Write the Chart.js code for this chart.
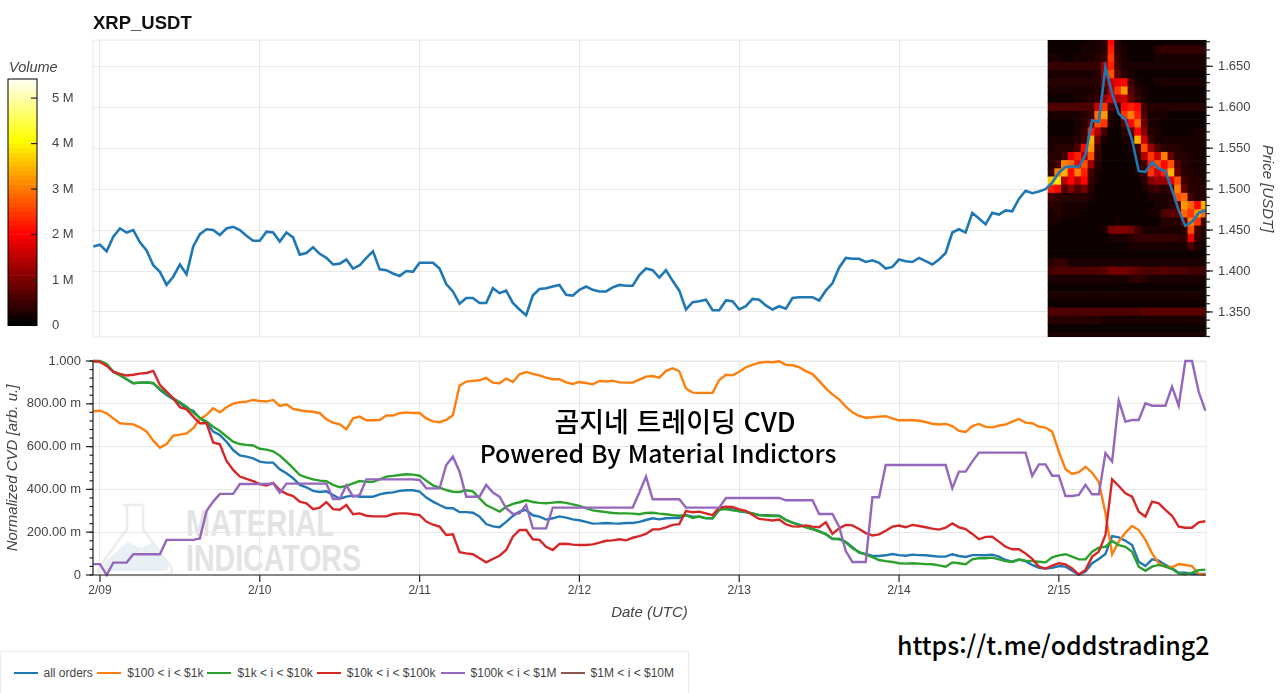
<!DOCTYPE html>
<html lang="ko">
<head>
<meta charset="utf-8">
<title>XRP_USDT CVD</title>
<script src="https://cdn.jsdelivr.net/npm/chart.js@4"></script>
<style>
    html, body { margin: 0; padding: 0; width: 1280px; height: 693px; background: #fff; overflow: hidden; }
    body { position: relative; font-family: "Liberation Sans", Arial, sans-serif; color: #444; }
    canvas, .overlay, #watermark { position: absolute; }
    #watermark { left: 0; top: 340px; }
    #price-chart { left: 0; top: 0; }
    #cvd-chart { left: 0; top: 340px; }
    #volume-bar { left: 0; top: 60px; }
    #volume-title { left: 9px; top: 59px; font-size: 14.5px; font-style: italic; }
    #caption1, #caption2 { color: #000; white-space: nowrap; transform: translateX(-50%); }
    #caption1 { left: 675px; top: 401px; font: 500 27px "Noto Sans CJK KR", sans-serif; }
    #caption2 { left: 658px; top: 434px; font: 500 24.8px "Noto Sans CJK KR", sans-serif; }
    #channel { left: 897px; top: 626px; color: #000; font: 500 24.9px "Noto Sans CJK KR", sans-serif; white-space: nowrap; }
    #legend { left: 0; top: 651px; width: 687px; height: 41px; border: 1px solid #ececec; box-sizing: content-box;
        display: flex; align-items: center; padding-left: 0; font-size: 12px; }
    .entry { display: flex; align-items: center; }
    .entry i { display: block; width: 24px; height: 2px; margin: 0 6px 0 0; }
</style>
</head>
<body>
<svg id="watermark" width="400" height="240" viewBox="0 340 400 240">
    <path d="M123 505h20M127 505v24l-28 38q-3 8 6 8h60q9 0 6-8l-28-38v-24" fill="none" stroke="#ececec" stroke-width="2.5"/>
    <path d="M113 555l14-13 14 6 13-6 14 24q1 5-4 5h-60q-5 0-3-5z" fill="#e8f0f4"/>
    <text x="186" y="536" font-family="Liberation Sans Narrow, Liberation Sans" font-weight="700" font-size="37" fill="#e3e3e3" textLength="148" lengthAdjust="spacingAndGlyphs">MATERIAL</text>
    <text x="186" y="571" font-family="Liberation Sans Narrow, Liberation Sans" font-weight="700" font-size="37" fill="#e3e3e3" textLength="175" lengthAdjust="spacingAndGlyphs">INDICATORS</text>
</svg>
<canvas id="price-chart" width="1280" height="340"></canvas>
<canvas id="cvd-chart" width="1280" height="286"></canvas>
<canvas id="volume-bar" width="100" height="280"></canvas>
<div class="overlay" id="volume-title">Volume</div>
<div class="overlay" id="caption1">곰지네 트레이딩 CVD</div>
<div class="overlay" id="caption2">Powered By Material Indictors</div>
<div class="overlay" id="channel">https://t.me/oddstrading2</div>
<div class="overlay" id="legend"></div>

<script>
// hourly samples, hour 0 = 2/09 00:00 UTC, one line per 24 samples
const dayLabels = ['2/09', '2/10', '2/11', '2/12', '2/13', '2/14', '2/15'];
const dayTicks = [0, 24, 48, 72, 96, 120, 144];
const priceTicks = [1.35, 1.40, 1.45, 1.50, 1.55, 1.60, 1.65];
const cvdTicks = [0, 0.2, 0.4, 0.6, 0.8, 1];
const volumeTicks = [0, 1, 2, 3, 4, 5];
const firstHour = -1;

const priceValues = [
    1.430,1.432,1.424,1.442,1.452,1.447,1.450,1.435,1.425,1.407,1.399,1.383,1.393,1.408,1.396,1.430,1.445,1.451,1.450,1.444,1.452,1.454,1.450,1.443,
    1.437,1.437,1.448,1.447,1.436,1.447,1.441,1.420,1.422,1.429,1.421,1.416,1.408,1.409,1.414,1.403,1.407,1.416,1.424,1.402,1.401,1.397,1.394,1.400,
    1.399,1.410,1.410,1.410,1.403,1.384,1.375,1.360,1.367,1.367,1.361,1.361,1.379,1.373,1.376,1.361,1.353,1.346,1.370,1.378,1.379,1.381,1.383,1.371,
    1.370,1.377,1.381,1.377,1.375,1.375,1.380,1.383,1.382,1.382,1.395,1.403,1.401,1.392,1.401,1.388,1.376,1.353,1.362,1.363,1.365,1.352,1.352,1.364,
    1.363,1.353,1.357,1.366,1.365,1.358,1.353,1.357,1.354,1.367,1.368,1.368,1.368,1.364,1.376,1.385,1.404,1.416,1.415,1.415,1.411,1.413,1.410,1.403,
    1.405,1.414,1.412,1.411,1.416,1.412,1.408,1.414,1.422,1.447,1.451,1.447,1.471,1.464,1.457,1.471,1.469,1.474,1.473,1.488,1.498,1.495,1.497,1.500,
    1.508,1.520,1.527,1.528,1.527,1.542,1.584,1.582,1.649,1.617,1.592,1.585,1.560,1.522,1.521,1.533,1.525,1.522,1.499,1.474,1.455,1.460,1.471,1.474,
];

const allOrders = [
    1,.997,.982,.950,.935,.915,.896,.899,.900,.896,.865,.841,.821,.802,.779,.767,.732,.712,.670,.654,.623,.584,.559,.553,
    .545,.530,.525,.525,.494,.475,.452,.421,.410,.393,.388,.391,.374,.357,.366,.371,.366,.366,.366,.377,.383,.386,.393,.396,
    .396,.390,.362,.343,.327,.313,.312,.294,.294,.291,.273,.238,.227,.223,.248,.276,.296,.304,.279,.273,.259,.265,.274,.268,
    .260,.256,.248,.240,.241,.243,.241,.240,.243,.243,.248,.257,.265,.260,.265,.266,.266,.280,.273,.273,.265,.265,.304,.313,
    .307,.298,.293,.288,.280,.279,.278,.277,.258,.245,.235,.225,.215,.205,.190,.168,.168,.155,.130,.104,.098,.089,.089,.092,
    .098,.093,.090,.095,.093,.092,.089,.086,.086,.097,.089,.084,.093,.093,.092,.095,.086,.070,.062,.072,.065,.047,.034,.030,
    .033,.042,.039,.020,.002,.016,.055,.075,.098,.182,.176,.160,.140,.062,.042,.073,.067,.047,.031,.011,.011,.005,.005,.005,
];
const range100to1k = [
    .765,.768,.756,.732,.709,.706,.704,.690,.670,.628,.595,.612,.651,.656,.662,.686,.728,.748,.779,.760,.784,.801,.807,.810,
    .818,.813,.810,.818,.790,.798,.776,.770,.765,.763,.756,.728,.712,.704,.681,.732,.740,.723,.723,.724,.745,.745,.756,.760,
    .757,.757,.732,.718,.714,.725,.746,.885,.904,.907,.910,.921,.899,.896,.918,.902,.938,.949,.940,.933,.922,.915,.915,.900,
    .893,.902,.897,.891,.907,.904,.908,.900,.899,.899,.913,.927,.930,.922,.954,.966,.952,.872,.852,.851,.851,.851,.911,.936,
    .933,.950,.971,.982,.992,.996,.994,.999,.982,.980,.971,.953,.939,.907,.872,.844,.821,.787,.760,.743,.735,.737,.740,.742,
    .732,.723,.723,.724,.721,.715,.707,.703,.706,.696,.673,.668,.696,.706,.692,.690,.698,.703,.717,.729,.712,.709,.693,.689,
    .670,.576,.494,.472,.480,.506,.478,.436,.288,.097,.156,.198,.229,.210,.164,.101,.055,.039,.036,.051,.047,.042,.005,0,
];
const range1kto10k = [
    1,1,.986,.950,.933,.915,.896,.899,.900,.896,.869,.849,.826,.807,.787,.759,.735,.717,.693,.673,.647,.623,.612,.608,
    .605,.590,.586,.578,.558,.530,.499,.467,.456,.447,.441,.438,.421,.410,.416,.428,.439,.435,.435,.447,.460,.463,.467,.471,
    .469,.464,.441,.419,.408,.397,.389,.388,.396,.391,.358,.327,.312,.296,.319,.332,.340,.349,.341,.337,.335,.338,.341,.337,
    .330,.323,.313,.302,.298,.294,.290,.288,.288,.287,.284,.290,.291,.287,.284,.279,.277,.280,.266,.273,.266,.265,.307,.308,
    .302,.299,.295,.288,.280,.277,.276,.276,.257,.245,.234,.223,.215,.203,.192,.170,.168,.153,.125,.108,.095,.083,.070,.065,
    .061,.055,.053,.055,.053,.051,.050,.045,.039,.059,.055,.050,.073,.079,.078,.081,.073,.065,.061,.072,.067,.065,.062,.059,
    .083,.092,.097,.086,.073,.073,.109,.128,.132,.159,.140,.132,.109,.039,.020,.039,.047,.039,.028,.008,.003,.011,.023,.025,
];
const range10kto100k = [
    1,.996,.977,.950,.940,.932,.936,.941,.944,.954,.888,.857,.826,.784,.774,.740,.709,.709,.619,.611,.533,.491,.460,.449,
    .439,.425,.418,.430,.397,.379,.369,.343,.335,.308,.315,.341,.308,.305,.327,.284,.288,.277,.274,.274,.274,.285,.288,.288,
    .284,.280,.250,.235,.226,.187,.190,.107,.101,.097,.078,.059,.075,.090,.117,.179,.210,.210,.167,.164,.132,.117,.145,.146,
    .142,.140,.140,.143,.151,.160,.162,.167,.162,.174,.182,.192,.213,.213,.223,.234,.238,.299,.293,.296,.288,.280,.315,.319,
    .318,.307,.300,.280,.262,.259,.255,.259,.237,.227,.226,.232,.226,.223,.246,.192,.218,.234,.232,.215,.196,.185,.190,.207,
    .226,.231,.223,.234,.229,.223,.217,.212,.221,.241,.223,.215,.192,.167,.178,.179,.156,.132,.120,.120,.101,.075,.039,.030,
    .044,.055,.050,.031,.002,.023,.086,.109,.187,.447,.416,.382,.366,.296,.273,.343,.335,.304,.277,.226,.221,.221,.246,.251,
];
const range100kto1M = [
    .051,.051,0,.058,.058,.058,.097,.097,.097,.097,.097,.164,.164,.164,.164,.164,.171,.299,.343,.379,.379,.379,.425,.425,
    .425,.425,.425,.428,.385,.427,.427,.427,.427,.427,.427,.427,.355,.355,.419,.366,.374,.447,.447,.447,.447,.447,.447,.447,
    .447,.444,.405,.405,.405,.514,.553,.483,.366,.366,.366,.421,.385,.366,.312,.285,.288,.327,.218,.218,.218,.315,.315,.315,
    .315,.315,.315,.315,.315,.315,.315,.315,.315,.315,.386,.460,.354,.354,.354,.354,.354,.315,.315,.315,.315,.315,.315,.360,
    .360,.360,.360,.360,.360,.360,.360,.360,.349,.349,.349,.349,.349,.285,.285,.285,.226,.112,.061,.061,.061,.363,.363,.514,
    .514,.514,.514,.514,.514,.514,.514,.514,.514,.405,.483,.483,.530,.572,.572,.572,.572,.572,.572,.572,.572,.463,.517,.517,
    .464,.464,.369,.369,.374,.421,.377,.377,.569,.530,.815,.717,.724,.724,.802,.791,.791,.791,.880,.791,1,1,.857,.768,
];
const range1Mto10M = [];

const seriesNames = ['all orders', '$100 < i < $1k', '$1k < i < $10k', '$10k < i < $100k', '$100k < i < $1M', '$1M < i < $10M'];
const seriesValues = [allOrders, range100to1k, range1kto10k, range10kto100k, range100kto1M, range1Mto10M];
const seriesColors = ['#1f77b4', '#ff7f0e', '#2ca02c', '#d62728', '#9467bd', '#8c564b'];

// volume profile, tenths of a million per price level and column
const heatFirstHour = 142.9;
const heatPrices = [1.68,1.67,1.66,1.65,1.64,1.63,1.62,1.61,1.60,1.59,1.58,1.57,1.56,1.55,1.54,1.53,1.52,1.51,1.50,1.49,1.48,1.47,1.46,1.45,1.44,1.43,1.42,1.41,1.40,1.39,1.38,1.37,1.36,1.35,1.34,1.33,1.32];
const heatVolumes = [
    [1,1,1,1,1,1,2,2,3,20,3,1,1,1,1,1,1,1,1,1,1,1,1,1],
    [1,1,1,1,1,2,2,2,3,22,3,2,1,1,1,1,3,4,4,4,4,4,4,4],
    [2,2,1,1,2,2,2,3,4,24,4,2,1,1,1,1,2,2,2,2,2,2,2,2],
    [4,4,4,4,4,4,4,4,12,22,5,2,2,2,2,2,2,2,2,2,2,2,2,2],
    [2,2,2,2,2,2,2,3,12,26,7,3,2,1,1,1,1,1,1,1,1,1,1,1],
    [3,3,3,3,3,3,3,3,8,16,18,20,5,2,1,1,2,2,2,2,2,2,2,2],
    [2,2,2,2,2,2,2,3,5,14,24,32,7,3,2,1,1,1,1,1,1,1,1,1],
    [1,1,1,1,2,2,3,4,12,16,14,16,8,4,2,1,1,1,1,1,1,1,1,1],
    [6,6,6,6,6,6,6,16,24,6,4,20,22,20,5,3,3,3,3,3,3,3,3,3],
    [2,2,2,2,2,3,4,28,32,3,1,24,30,22,6,2,2,2,1,1,1,1,1,1],
    [1,1,1,1,2,3,8,26,24,2,1,7,20,28,8,2,2,1,1,1,1,1,1,1],
    [1,1,1,1,2,4,22,14,5,1,1,3,7,20,10,3,2,1,1,1,1,1,2,2],
    [2,2,2,2,3,5,34,8,2,1,1,2,3,34,16,4,2,2,2,2,2,2,2,2],
    [2,3,3,3,6,20,32,5,1,1,1,1,2,5,26,12,6,3,3,3,2,2,2,2],
    [3,3,5,18,22,14,26,4,1,1,1,1,1,3,14,24,16,30,8,3,3,2,2,2],
    [3,5,30,28,18,26,12,3,1,1,1,1,1,2,5,22,26,20,26,6,3,2,2,2],
    [4,30,34,20,30,22,5,2,1,1,1,1,1,2,4,24,16,22,34,8,3,3,2,2],
    [36,38,14,20,14,20,4,2,1,1,1,1,1,1,3,10,12,12,18,26,5,3,3,2],
    [22,20,6,10,6,9,3,1,1,1,1,1,1,1,2,4,5,3,5,30,8,3,3,3],
    [5,4,3,3,3,3,2,1,1,1,1,1,1,1,1,2,2,2,3,26,28,5,3,3],
    [3,3,2,2,2,2,1,1,1,1,1,1,1,1,1,1,2,2,3,5,32,28,20,34],
    [2,3,2,2,2,1,1,1,1,1,1,1,1,1,1,2,2,6,7,7,28,24,32,28],
    [2,2,1,1,1,1,1,1,1,1,2,1,1,1,1,1,1,3,3,3,8,30,24,5],
    [1,1,1,1,1,1,1,1,2,9,10,10,9,5,2,2,2,2,2,2,3,26,5,3],
    [1,1,1,1,1,1,1,1,1,2,2,2,3,4,4,4,4,4,4,4,3,18,4,2],
    [1,1,1,1,1,1,1,1,1,1,1,1,2,2,2,2,2,2,2,2,2,6,2,1],
    [1,1,1,1,1,1,1,1,1,1,1,1,1,1,1,1,1,1,1,1,1,1,1,1],
    [3,4,4,2,2,2,2,2,2,2,2,2,2,2,2,2,2,2,2,2,2,2,2,2],
    [5,6,6,6,6,6,6,6,7,9,9,9,8,7,6,6,6,7,6,6,6,5,5,5],
    [2,2,2,2,2,2,2,2,2,2,2,2,3,4,3,2,2,2,2,2,2,2,2,2],
    [1,1,1,1,1,1,1,1,1,1,1,1,1,1,1,1,1,1,1,1,1,1,1,1],
    [2,2,2,2,2,2,2,2,2,2,2,2,2,2,2,2,2,2,2,2,2,2,2,2],
    [1,1,1,1,1,1,1,1,1,1,1,1,1,1,1,1,1,1,1,1,1,1,1,1],
    [6,6,6,6,6,6,6,6,6,6,6,6,6,6,7,7,7,7,7,7,7,7,7,7],
    [3,3,3,3,3,3,3,3,2,2,2,2,2,2,2,2,2,2,2,2,2,2,2,2],
    [1,1,1,1,1,1,1,1,1,1,1,1,1,1,1,1,1,1,1,1,1,1,1,1],
    [2,2,2,2,2,2,2,2,2,2,2,2,2,2,2,2,2,2,2,2,2,2,2,2],
];

const VOLUME_MAX = 5.42;
const GRID = '#e8e8e8';
const LABEL_FONT = { family: '"Liberation Sans", Arial, sans-serif', size: 13 };
const TITLE_FONT = { family: '"Liberation Sans", Arial, sans-serif', size: 15, style: 'italic' };

// black - red - yellow - white, same as the colour bar
function hotColor(volume) {
    const part = (a, b) => Math.round(255 * Math.min(1, Math.max(0, (volume - a) / (b - a))));
    return `rgb(${part(0, 1.97)},${part(1.97, 4.03)},${part(4.03, VOLUME_MAX)})`;
}

const toPoints = values => values.map((y, i) => ({ x: firstHour + i, y }));
const fixedTicks = values => axis => { axis.ticks = values.map(value => ({ value })); };
const fixedWidth = width => scale => {
    scale.width = width;
    scale.paddingTop = 0;
    scale.paddingBottom = 0;
};

const heatCells = [];
heatPrices.forEach((price, row) => {
    heatVolumes[row].forEach((tenths, col) => {
        heatCells.push({ x: heatFirstHour + col, y: [price - 0.005, price + 0.005], volume: tenths / 10 });
    });
});

const barLevels = [];
for (let v = 0; v < VOLUME_MAX; v += 0.1) barLevels.push({ x: 0, y: [v, v + 0.1], volume: v });

// light frame around the plot area
const plotOutline = {
    id: 'plotOutline',
    beforeDatasetsDraw(chart, args, opts) {
        const { left, top, width, height } = chart.chartArea;
        const ctx = chart.ctx;
        ctx.save();
        ctx.strokeStyle = opts.color || GRID;
        ctx.lineWidth = 1;
        ctx.strokeRect(left, top, width, height);
        ctx.restore();
    },
};

// axis line with outside major and minor ticks
const axisTicks = {
    id: 'axisTicks',
    afterDatasetsDraw(chart, args, opts) {
        const ctx = chart.ctx;
        const area = chart.chartArea;
        ctx.save();
        ctx.lineWidth = 1.2;
        ctx.strokeStyle = '#222';
        (opts.axes || []).forEach(axis => {
            const scale = chart.scales[axis.id];
            const line = (v, len) => {
                const p = scale.getPixelForValue(v);
                ctx.beginPath();
                if (axis.side === 'left') { ctx.moveTo(area.left, p); ctx.lineTo(area.left - len, p); }
                if (axis.side === 'right') { ctx.moveTo(area.right, p); ctx.lineTo(area.right + len, p); }
                if (axis.side === 'bottom') { ctx.moveTo(p, area.bottom); ctx.lineTo(p, area.bottom + len); }
                if (axis.side === 'inner') { ctx.moveTo(area.right, p); ctx.lineTo(area.right - len, p); }
                ctx.stroke();
            };
            if (axis.side !== 'inner') {
                ctx.beginPath();
                if (axis.side === 'left') { ctx.moveTo(area.left, area.top); ctx.lineTo(area.left, area.bottom); }
                if (axis.side === 'right') { ctx.moveTo(area.right, area.top); ctx.lineTo(area.right, area.bottom); }
                if (axis.side === 'bottom') { ctx.moveTo(area.left, area.bottom); ctx.lineTo(area.right, area.bottom); }
                ctx.stroke();
            }
            if (axis.minor) {
                const n = Math.ceil(scale.min / axis.minor);
                for (let i = n; i * axis.minor <= scale.max; i++) line(i * axis.minor, axis.minorLength);
            }
            scale.ticks.forEach(t => line(t.value, axis.majorLength));
        });
        ctx.restore();
    },
};

const hoursAxis = (showLabels, height, title) => ({
    type: 'linear',
    bounds: 'data',
    offset: false,
    min: -1.05,
    max: 166.1,
    afterBuildTicks: fixedTicks(dayTicks),
    grid: { color: GRID, drawTicks: false, offset: false },
    border: { display: false },
    ticks: {
        display: showLabels,
        autoSkip: false,
        maxRotation: 0,
        padding: 8,
        color: '#444',
        font: { ...LABEL_FONT, size: 12 },
        callback: v => dayLabels[dayTicks.indexOf(v)],
    },
    title: title ? { display: true, text: title, color: '#444', font: TITLE_FONT, padding: 4 } : { display: false },
    afterFit: scale => {
        scale.height = height;
        scale.paddingLeft = 0;
        scale.paddingRight = 0;
    },
});

new Chart(document.getElementById('price-chart'), {
    data: {
        datasets: [
            {
                type: 'line',
                label: 'Price',
                data: toPoints(priceValues),
                borderColor: seriesColors[0],
                borderWidth: 2.6,
                pointRadius: 0,
                tension: 0,
                order: 0,
            },
            {
                type: 'bar',
                label: 'Volume',
                data: heatCells,
                backgroundColor: heatCells.map(c => hotColor(c.volume)),
                borderWidth: 0,
                barThickness: 7,
                grouped: false,
                order: 1,
            },
        ],
    },
    options: {
        responsive: false,
        animation: false,
        layout: { padding: { left: 93 } },
        plugins: {
            legend: { display: false },
            tooltip: { enabled: false },
            title: {
                display: true,
                text: 'XRP_USDT',
                align: 'start',
                fullSize: false,
                color: '#111',
                font: { family: LABEL_FONT.family, size: 18.5, weight: 'bold' },
                padding: { top: 12.9, bottom: 5 },
            },
            axisTicks: { axes: [{ id: 'y', side: 'right', minor: 0.01, minorLength: 4, majorLength: 7 }] },
        },
        scales: {
            x: hoursAxis(false, 3),
            y: {
                type: 'linear',
                position: 'right',
                bounds: 'data',
                min: 1.3194,
                max: 1.682,
                afterBuildTicks: fixedTicks(priceTicks),
                grid: { color: GRID, drawTicks: false },
                border: { display: false },
                ticks: {
                    autoSkip: false,
                    padding: 12,
                    color: '#444',
                    font: LABEL_FONT,
                    callback: v => v.toFixed(3),
                },
                title: { display: true, text: 'Price [USDT]', color: '#444', font: TITLE_FONT, padding: 4 },
                afterFit: fixedWidth(74),
            },
        },
    },
    plugins: [plotOutline, axisTicks],
});

const cvdChart = new Chart(document.getElementById('cvd-chart'), {
    data: {
        datasets: seriesNames.map((name, i) => ({
            type: 'line',
            label: name,
            data: toPoints(seriesValues[i]),
            borderColor: seriesColors[i],
            borderWidth: 2.4,
            pointRadius: 0,
            tension: 0,
            clip: 2,
            order: seriesNames.length - i,
        })),
    },
    options: {
        responsive: false,
        animation: false,
        layout: { padding: { top: 21, right: 74 } },
        plugins: {
            legend: { display: false },
            tooltip: { enabled: false },
            axisTicks: {
                axes: [
                    { id: 'y', side: 'left', minor: 0.04, minorLength: 3.5, majorLength: 7 },
                    { id: 'x', side: 'bottom', majorLength: 7 },
                ],
            },
        },
        scales: {
            x: hoursAxis(true, 51, 'Date (UTC)'),
            y: {
                type: 'linear',
                bounds: 'data',
                min: 0,
                max: 1,
                afterBuildTicks: fixedTicks(cvdTicks),
                grid: { color: GRID, drawTicks: false },
                border: { display: false },
                ticks: {
                    autoSkip: false,
                    padding: 12,
                    color: '#444',
                    font: LABEL_FONT,
                    callback: v => (v === 0 ? '0' : v === 1 ? '1.000' : (v * 1000).toFixed(2) + ' m'),
                },
                title: { display: true, text: 'Normalized CVD [arb. u.]', color: '#444', font: TITLE_FONT, padding: 4 },
                afterFit: fixedWidth(93),
            },
        },
    },
    plugins: [plotOutline, axisTicks],
});

new Chart(document.getElementById('volume-bar'), {
    data: {
        datasets: [{
            type: 'bar',
            label: 'Volume',
            data: barLevels,
            backgroundColor: barLevels.map(c => hotColor(c.volume)),
            borderWidth: 0,
            barThickness: 29,
            grouped: false,
        }],
    },
    options: {
        responsive: false,
        animation: false,
        layout: { padding: { left: 8, top: 19, bottom: 14.5 } },
        plugins: {
            legend: { display: false },
            tooltip: { enabled: false },
            axisTicks: { axes: [{ id: 'y', side: 'inner', majorLength: 6 }] },
        },
        scales: {
            x: { type: 'linear', offset: false, min: -1, max: 1, display: false },
            y: {
                type: 'linear',
                position: 'right',
                bounds: 'data',
                min: 0,
                max: VOLUME_MAX,
                afterBuildTicks: fixedTicks(volumeTicks),
                grid: { display: false, drawTicks: false },
                border: { display: false },
                ticks: {
                    autoSkip: false,
                    padding: 15,
                    color: '#444',
                    font: LABEL_FONT,
                    callback: v => (v === 0 ? '0' : v + ' M'),
                },
                afterFit: fixedWidth(63),
            },
        },
    },
    plugins: [
        axisTicks,
        {
            id: 'barFrame',
            afterDatasetsDraw(chart) {
                const { left, top, width, height } = chart.chartArea;
                chart.ctx.save();
                chart.ctx.strokeStyle = '#000';
                chart.ctx.strokeRect(left, top, width, height);
                chart.ctx.restore();
            },
        },
    ],
});

// legend sits in its own box under the charts
const legendEl = document.getElementById('legend');
const legendGaps = [12.5, 4.5, 4, 4, 5, 4];
cvdChart.data.datasets.forEach((ds, i) => {
    const entry = document.createElement('div');
    entry.className = 'entry';
    entry.style.marginLeft = legendGaps[i] + 'px';
    const swatch = document.createElement('i');
    swatch.style.background = ds.borderColor;
    const label = document.createElement('span');
    label.textContent = ds.label;
    entry.append(swatch, label);
    legendEl.appendChild(entry);
});
</script>
</body>
</html>
